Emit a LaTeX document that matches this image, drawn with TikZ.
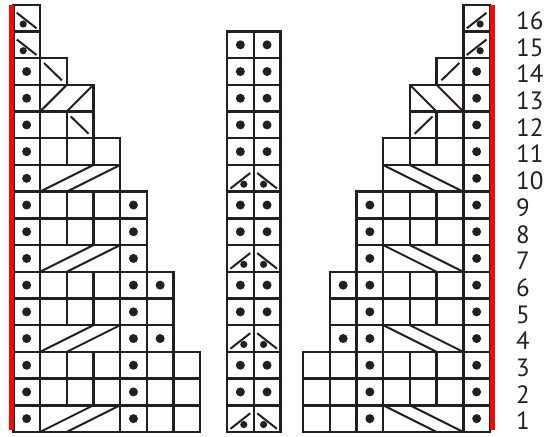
\documentclass[tikz,border=0pt]{standalone}
\usepackage{fontspec}
\setmainfont{PT Sans}
\definecolor{ink}{RGB}{35,31,32}
\definecolor{redline}{RGB}{240,10,10}
\newcommand\bx[3]{\draw[box] (#1-1,#3-1) rectangle ++(#2,1);}
\newcommand\kdot[2]{\fill[ink] (#1-0.5,#2-0.5) circle[radius=4.5pt];}
\newcommand\cab[3]{\draw[sym] (#1-1,#3-1) -- (#1-2+#2,#3) (#1,#3-1) -- (#1-1+#2,#3);}
\newcommand\diag[2]{\draw[sym] (#1-0.85,#2-0.18) -- (#1-0.18,#2-0.83);}
\newcommand\slantdot[2]{\draw[sym] (#1-0.87,#2-0.3) -- (#1-0.13,#2-0.88);
  \fill[ink] (#1-0.63,#2-0.72) circle[radius=3.6pt];}
\newcommand\slantdotm[2]{\draw[sym] (#1-0.87,#2-0.88) -- (#1-0.13,#2-0.3);
  \fill[ink] (#1-0.37,#2-0.72) circle[radius=3.6pt];}
\newcommand\chartbody{%
  % row 1
  \bx{1}{1}{1}\bx{2}{3}{1}\cab{2}{3}{1}\bx{5}{1}{1}\bx{6}{1}{1}\bx{7}{1}{1}
  \kdot{1}{1}\kdot{5}{1}
  % rows 2,3
  \foreach \r in {2,3}{\foreach \c in {1,...,7}{\bx{\c}{1}{\r}}\kdot{1}{\r}\kdot{5}{\r}}
  % row 4
  \bx{1}{1}{4}\bx{2}{3}{4}\cab{2}{3}{4}\bx{5}{1}{4}\bx{6}{1}{4}
  \kdot{1}{4}\kdot{5}{4}\kdot{6}{4}
  % rows 5,6
  \foreach \r in {5,6}{\foreach \c in {1,...,6}{\bx{\c}{1}{\r}}\kdot{1}{\r}\kdot{5}{\r}}
  \kdot{6}{6}
  % row 7
  \bx{1}{1}{7}\bx{2}{3}{7}\cab{2}{3}{7}\bx{5}{1}{7}
  \kdot{1}{7}\kdot{5}{7}
  % rows 8,9
  \foreach \r in {8,9}{\foreach \c in {1,...,5}{\bx{\c}{1}{\r}}\kdot{1}{\r}\kdot{5}{\r}}
  % row 10
  \bx{1}{1}{10}\bx{2}{3}{10}\cab{2}{3}{10}\kdot{1}{10}
  % row 11
  \foreach \c in {1,...,4}{\bx{\c}{1}{11}}\kdot{1}{11}
  % row 12
  \foreach \c in {1,...,3}{\bx{\c}{1}{12}}\kdot{1}{12}\diag{3}{12}
  % row 13
  \bx{1}{1}{13}\bx{2}{2}{13}\cab{2}{2}{13}\kdot{1}{13}
  % row 14
  \bx{1}{1}{14}\bx{2}{1}{14}\kdot{1}{14}\diag{2}{14}
  % rows 15,16
  \bx{1}{1}{15}\slantdot{1}{15}
  \bx{1}{1}{16}\slantdot{1}{16}
}
\begin{document}
\begin{tikzpicture}[x=1pt,y=1pt,
  box/.style={draw=ink,line width=2.4pt},
  sym/.style={draw=ink,line width=2pt},
  red rule/.style={draw=redline,line width=4.6pt},
  num/.style={anchor=base west,inner sep=0pt,text=ink,font=\fontsize{25}{25}\selectfont}]
\useasboundingbox (0,0) rectangle (548,436);
% left chart
\begin{scope}[shift={(13.3pt,4pt)},x=26.7pt,y=26.7pt]
  \chartbody
\end{scope}
% right chart (mirrored)
\begin{scope}[shift={(490pt,4pt)},x=-26.7pt,y=26.7pt]
  \chartbody
\end{scope}
% middle chart
\begin{scope}[shift={(227pt,4pt)},x=26.7pt,y=26.7pt]
  \foreach \r in {1,...,15}{\bx{1}{1}{\r}\bx{2}{1}{\r}}
  \foreach \r in {1,4,7,10}{\slantdotm{1}{\r}\slantdot{2}{\r}}
  \foreach \r in {2,3,5,6,8,9,11,12,13,14,15}{\kdot{1}{\r}\kdot{2}{\r}}
\end{scope}
% red edges
\coordinate (lt) at (11.3,431.3);
\coordinate (lb) at (11.3,6);
\coordinate (rt) at (492.4,431.3);
\coordinate (rb) at (492.4,6);
\draw[red rule] (lb) -- (lt);
\draw[red rule] (rb) -- (rt);
% row numbers
\foreach \r in {1,...,16}{\node[num] (n\r) at (516,{4+(\r-0.5)*26.7-11.3}) {\r};}
\end{tikzpicture}
\end{document}
